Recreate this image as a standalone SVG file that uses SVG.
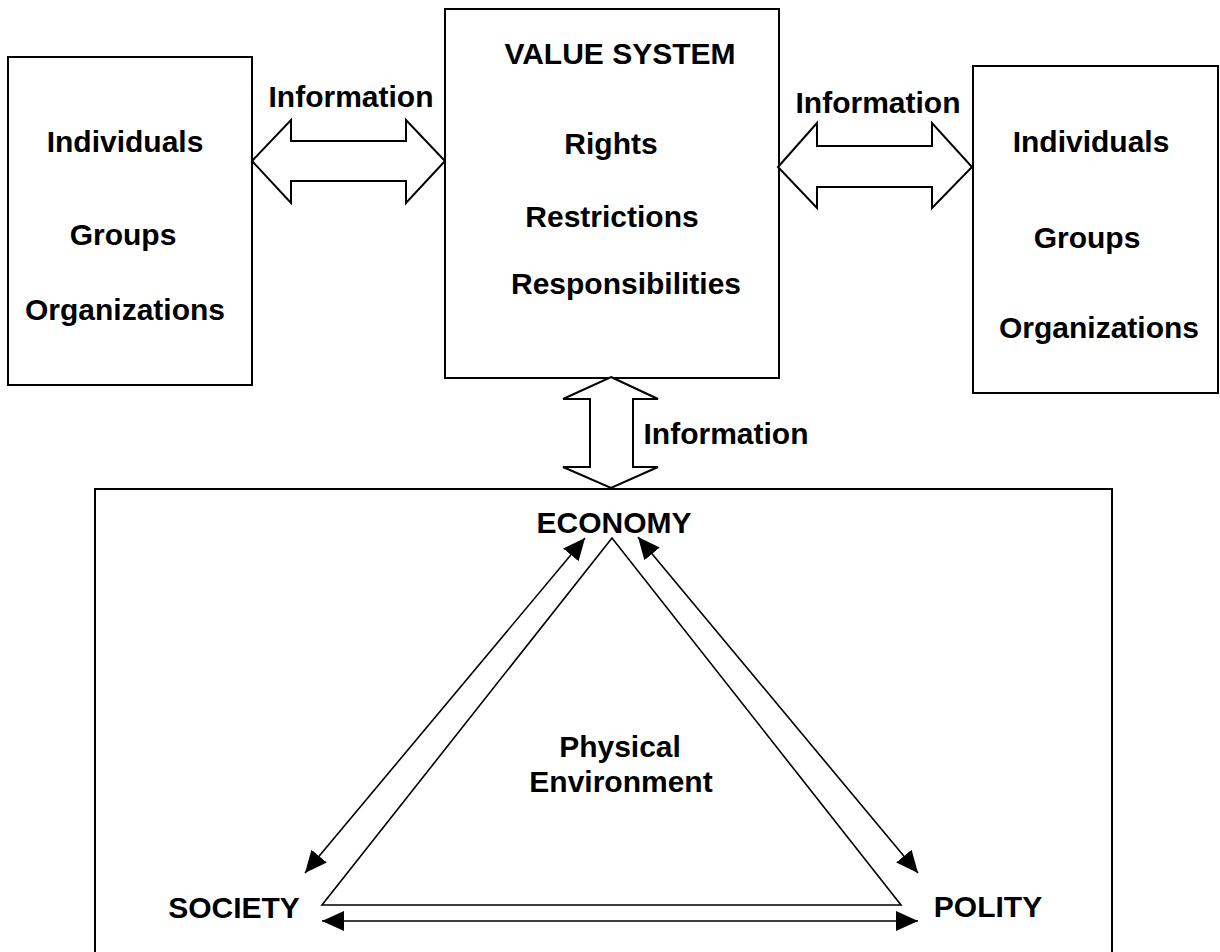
<svg xmlns="http://www.w3.org/2000/svg" width="1220" height="952" viewBox="0 0 1220 952">
<style>
.box{fill:#fff;stroke:#000;stroke-width:2}
.blk{fill:#fff;stroke:#000;stroke-width:2;stroke-linejoin:miter}
.ln{fill:none;stroke:#000;stroke-width:1.6}
text{font-family:"Liberation Sans",Arial,sans-serif;font-weight:bold;font-size:30px;fill:#000;text-anchor:middle}
</style>
<defs>
<marker id="ah" markerUnits="userSpaceOnUse" markerWidth="24" markerHeight="22" refX="22" refY="10" orient="auto-start-reverse">
<path d="M0,0 L22,10 L0,20 z" fill="#000"/>
</marker>
</defs>
<rect width="1220" height="952" fill="#fff"/>
<g id="env">
<rect class="box" x="95" y="489" width="1017" height="480"/>
</g>
<g id="left-box">
<rect class="box" x="8" y="57" width="244" height="328"/>
<text x="125" y="152">Individuals</text>
<text x="123" y="245">Groups</text>
<text x="125" y="320">Organizations</text>
</g>
<g id="value-system">
<rect class="box" x="445" y="9" width="334" height="369"/>
<text x="620" y="64">VALUE SYSTEM</text>
<text x="611" y="154">Rights</text>
<text x="612" y="227">Restrictions</text>
<text x="626" y="294">Responsibilities</text>
</g>
<g id="right-box">
<rect class="box" x="973" y="66" width="245" height="327"/>
<text x="1091" y="152">Individuals</text>
<text x="1087" y="248">Groups</text>
<text x="1099" y="338">Organizations</text>
</g>
<g id="economy"><text x="614" y="533">ECONOMY</text></g>
<g id="society"><text x="234" y="918">SOCIETY</text></g>
<g id="polity"><text x="988" y="917">POLITY</text></g>
<g id="physical"><text x="620" y="757">Physical</text><text x="621" y="792">Environment</text></g>
<g id="connectors">
<polygon class="blk" points="252,161 291,120 291,141 406,141 406,120 445,161 406,203 406,181 291,181 291,203"/>
<polygon class="blk" points="778,167 817,123 817,146 932,146 932,123 972,167 932,208 932,187 817,187 817,208"/>
<polygon class="blk" points="611,377 658,399 633,399 633,467 658,467 611,488 563,467 590,467 590,399 563,399"/>
<text x="351" y="107">Information</text>
<text x="878" y="113">Information</text>
<text x="726" y="444">Information</text>
<polygon class="ln" points="612,538 322,905 901,905"/>
<line class="ln" x1="585" y1="538" x2="305" y2="873" marker-start="url(#ah)" marker-end="url(#ah)"/>
<line class="ln" x1="638" y1="537" x2="918" y2="873" marker-start="url(#ah)" marker-end="url(#ah)"/>
<line class="ln" x1="322" y1="921" x2="918" y2="921" marker-start="url(#ah)" marker-end="url(#ah)"/>
</g>
</svg>
